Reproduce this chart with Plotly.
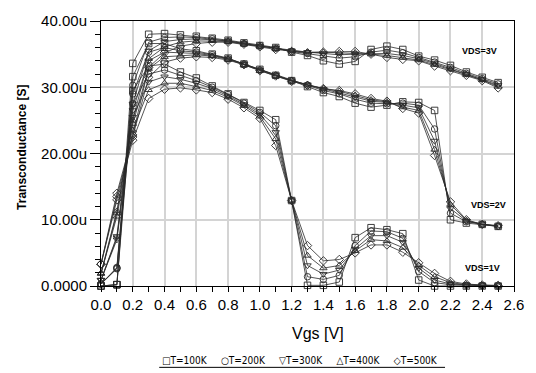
import plotly.graph_objects as go

vgs = [round(0.1 * i, 1) for i in range(26)]
temps = ["T=100K", "T=200K", "T=300K", "T=400K", "T=500K"]
symbols = ["square-open", "circle-open", "triangle-down-open", "triangle-up-open", "diamond-open"]

gm_vds3 = [
    [0.0, 0.2, 33.6, 38.0, 38.1, 37.9, 37.7, 37.4, 37.1, 36.7, 36.3, 36.0, 35.3, 34.8, 34.0, 33.5, 33.9, 35.7, 36.2, 35.7, 34.7, 34.1, 33.3, 32.3, 31.5, 30.7],
    [0.3, 2.8, 30.3, 36.8, 37.5, 37.6, 37.5, 37.3, 37.0, 36.6, 36.3, 35.9, 35.4, 35.1, 34.7, 34.4, 34.6, 35.3, 35.6, 35.2, 34.5, 33.8, 33.0, 32.1, 31.3, 30.5],
    [0.9, 7.5, 27.5, 35.5, 36.9, 37.2, 37.3, 37.2, 37.0, 36.6, 36.2, 35.9, 35.5, 35.3, 35.1, 34.9, 35.0, 35.1, 35.1, 34.8, 34.3, 33.6, 32.8, 32.0, 31.2, 30.3],
    [1.9, 11.3, 25.0, 34.3, 36.1, 36.8, 37.0, 37.0, 36.9, 36.5, 36.2, 35.8, 35.5, 35.3, 35.3, 35.2, 35.2, 35.0, 34.8, 34.5, 34.1, 33.4, 32.7, 31.9, 31.1, 30.1],
    [3.3, 14.0, 22.8, 33.0, 35.2, 36.2, 36.6, 36.8, 36.8, 36.5, 36.1, 35.7, 35.4, 35.2, 35.3, 35.4, 35.4, 35.0, 34.5, 34.2, 34.0, 33.2, 32.5, 31.8, 31.0, 29.9],
]
gm_vds2 = [
    [0.0, 0.2, 31.6, 36.6, 36.6, 35.8, 35.5, 35.0, 34.4, 33.5, 32.7, 31.8, 31.0, 30.1, 29.2, 28.6, 27.6, 27.0, 27.3, 27.8, 27.7, 26.5, 10.0, 9.5, 9.3, 9.0],
    [0.3, 2.7, 29.0, 35.3, 36.0, 35.5, 35.3, 34.9, 34.3, 33.5, 32.6, 31.8, 31.0, 30.3, 29.5, 29.0, 28.2, 27.6, 27.5, 27.6, 27.3, 23.7, 11.0, 9.7, 9.3, 9.0],
    [0.9, 7.3, 26.5, 34.0, 35.3, 35.2, 35.1, 34.8, 34.3, 33.5, 32.6, 31.8, 31.0, 30.4, 29.7, 29.2, 28.5, 27.9, 27.7, 27.3, 26.9, 21.9, 11.7, 9.8, 9.3, 9.0],
    [1.9, 11.0, 24.5, 32.8, 34.6, 34.8, 34.9, 34.7, 34.2, 33.4, 32.5, 31.7, 31.0, 30.4, 29.8, 29.4, 28.8, 28.1, 27.8, 27.0, 26.5, 20.6, 12.3, 9.9, 9.3, 9.1],
    [3.3, 13.5, 22.5, 31.5, 33.8, 34.4, 34.6, 34.5, 34.1, 33.4, 32.5, 31.7, 30.9, 30.3, 29.8, 29.5, 29.0, 28.3, 27.9, 26.8, 26.1, 19.7, 12.7, 10.0, 9.3, 9.1],
]
gm_vds1 = [
    [0.0, 0.2, 29.5, 33.2, 33.5, 32.3, 31.4, 30.2, 29.0, 27.7, 26.5, 25.1, 12.9, 0.1, 0.1, 0.6, 7.3, 8.8, 8.5, 7.9, 0.9, 0.0, 0.0, 0.0, 0.0, 0.0],
    [0.3, 2.6, 27.5, 32.0, 32.6, 31.8, 31.0, 30.0, 28.9, 27.6, 26.2, 24.2, 12.9, 1.4, 1.0, 1.6, 6.1, 8.3, 8.2, 7.2, 2.2, 0.5, 0.2, 0.1, 0.05, 0.0],
    [0.9, 7.0, 25.5, 30.8, 31.6, 31.2, 30.6, 29.8, 28.7, 27.4, 25.9, 23.2, 12.9, 3.1, 1.8, 2.4, 5.6, 7.6, 7.6, 6.6, 2.7, 0.9, 0.3, 0.15, 0.1, 0.05],
    [1.9, 10.5, 23.5, 29.6, 30.6, 30.6, 30.1, 29.5, 28.5, 27.2, 25.6, 22.2, 12.9, 4.6, 2.7, 3.1, 5.3, 7.0, 6.8, 5.8, 3.1, 1.4, 0.5, 0.2, 0.1, 0.05],
    [3.3, 13.0, 22.0, 28.3, 29.7, 29.9, 29.6, 29.2, 28.2, 26.9, 25.3, 21.2, 12.9, 6.1, 3.8, 4.0, 5.0, 6.2, 6.2, 5.1, 3.5, 1.9, 0.7, 0.3, 0.15, 0.1],
]

y_tickvals = [0, 10, 20, 30, 40]
y_ticktext = ["0.0000", "10.00u", "20.00u", "30.00u", "40.00u"]
x_tickvals = [round(0.2 * i, 1) for i in range(14)]
x_ticktext = ["%.1f" % v for v in x_tickvals]

vds_labels = ["VDS=3V", "VDS=2V", "VDS=1V"]
vds_label_x = [2.385, 2.44, 2.40]
vds_label_y = [35.45, 12.25, 2.77]

fig = go.Figure()
for group in [gm_vds1, gm_vds2, gm_vds3]:
    for k in range(5):
        fig.add_trace(go.Scatter(
            x=vgs, y=group[k], mode="lines+markers",
            line=dict(color="#2a2a2a", width=0.8),
            marker=dict(symbol=symbols[k], size=6.5, color="#2a2a2a",
                        line=dict(color="#2a2a2a", width=0.9)),
            cliponaxis=False, showlegend=False, name=temps[k]))

fig.update_layout(
    width=536, height=373,
    margin=dict(l=101, r=16, t=16, b=87),
    paper_bgcolor="white", plot_bgcolor="white",
    font=dict(family="Liberation Sans, Arial", color="black"),
    showlegend=False,
)
fig.update_xaxes(
    range=[0, 2.6], tickvals=x_tickvals, ticktext=x_ticktext,
    tickfont=dict(size=15), showgrid=True, gridcolor="#d4d4d4", gridwidth=2,
    showline=True, linecolor="black", linewidth=1, mirror=True,
    ticks="outside", ticklen=5, tickcolor="black", zeroline=False,
    minor=dict(dtick=0.1, ticks="outside", ticklen=5, tickcolor="black", showgrid=False),
)
fig.update_yaxes(
    range=[0, 40], tickvals=y_tickvals, ticktext=y_ticktext,
    tickfont=dict(size=15), showgrid=True, gridcolor="#d4d4d4", gridwidth=2,
    showline=True, linecolor="black", linewidth=1, mirror=True,
    ticks="outside", ticklen=10, tickcolor="black", zeroline=False,
    minor=dict(dtick=2, ticks="outside", ticklen=5, tickcolor="black", showgrid=False),
)

annotations = []
for lab, ax_, ay_ in zip(vds_labels, vds_label_x, vds_label_y):
    annotations.append(dict(x=ax_, y=ay_, xref="x", yref="y", text="<b>" + lab + "</b>",
                            showarrow=False, font=dict(size=9, family="Liberation Sans, Arial")))
annotations.append(dict(x=0.525, y=-0.181, xref="paper", yref="paper", text="Vgs [V]",
                        showarrow=False, font=dict(size=16), xanchor="center", yanchor="middle"))
annotations.append(dict(x=-0.193, y=0.522, xref="paper", yref="paper",
                        text="<b>Transconductance [S]</b>", textangle=-90,
                        showarrow=False, font=dict(size=12), xanchor="center", yanchor="middle"))
legend_text = "&nbsp;&nbsp;&nbsp;&nbsp;&nbsp;".join(s + t for s, t in zip(["□", "○", "▽", "△", "◇"], temps))
annotations.append(dict(x=0.483, y=-0.280, xref="paper", yref="paper", text=legend_text,
                        showarrow=False, font=dict(size=10, family="DejaVu Sans Condensed, DejaVu Sans"),
                        xanchor="center", yanchor="middle"))
fig.update_layout(annotations=annotations)
fig.add_shape(type="line", xref="paper", yref="paper", x0=0.141, x1=0.833, y0=-0.307, y1=-0.307,
              line=dict(color="black", width=1))

fig.write_html("out.html")
